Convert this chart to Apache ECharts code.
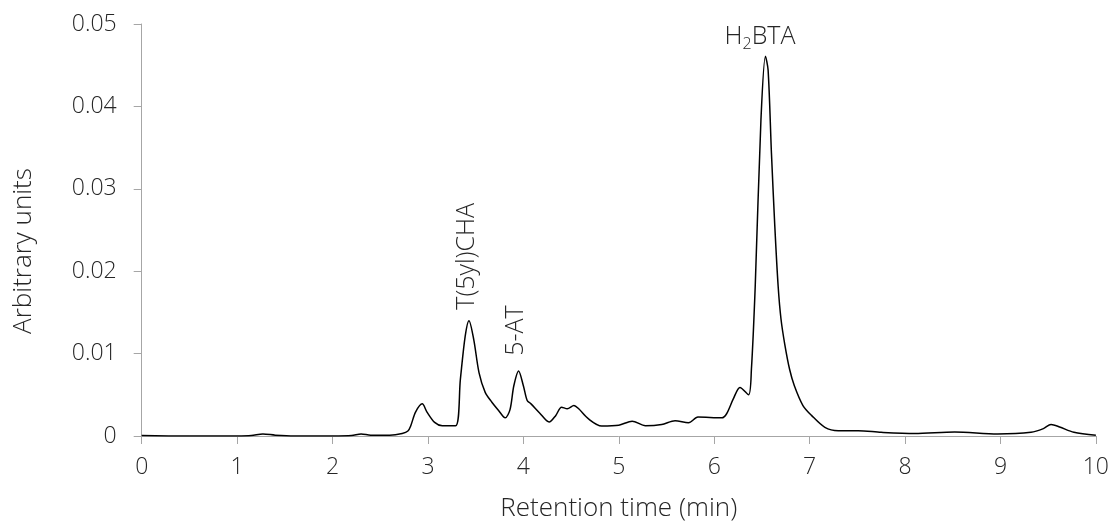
<!DOCTYPE html>
<html>
<head>
<meta charset="utf-8">
<script src="https://cdn.jsdelivr.net/npm/echarts@6/dist/echarts.min.js"></script>
<style>html,body{margin:0;padding:0;background:#fff}#c{width:1112px;height:527px}</style>
</head>
<body>
<div id="c"></div>
<script>
// Retention time (min)
const times = [0, 0.5, 1.0, 1.15, 1.27, 1.4, 1.6, 2.0, 2.2, 2.3, 2.4, 2.6, 2.73, 2.79, 2.82, 2.87, 2.94, 2.99, 3.07, 3.15, 3.29, 3.34, 3.39, 3.43, 3.48, 3.535, 3.6, 3.67, 3.74, 3.81, 3.86, 3.9, 3.95, 4.0, 4.04, 4.08, 4.17, 4.27, 4.34, 4.40, 4.46, 4.53, 4.58, 4.68, 4.82, 5.0, 5.14, 5.28, 5.45, 5.59, 5.73, 5.83, 6.08, 6.13, 6.2, 6.27, 6.36, 6.39, 6.43, 6.49, 6.537, 6.565, 6.60, 6.635, 6.67, 6.70, 6.74, 6.79, 6.84, 6.93, 7.02, 7.16, 7.30, 7.51, 7.75, 8.10, 8.52, 8.97, 9.32, 9.45, 9.53, 9.62, 9.77, 10.0];
// Signal (arbitrary units)
const signal = [0.00005, 0.0, 0.0, 0.00005, 0.00025, 0.0001, 0.0, 0.0, 0.00005, 0.00025, 0.0001, 0.0001, 0.0003, 0.0006, 0.00125, 0.0029, 0.0039, 0.0029, 0.00165, 0.00125, 0.00125, 0.0069, 0.0121, 0.014, 0.0117, 0.0077, 0.0053, 0.0041, 0.0031, 0.0022, 0.0032, 0.0061, 0.0079, 0.0061, 0.0043, 0.0039, 0.0028, 0.0017, 0.0025, 0.0035, 0.0033, 0.0037, 0.0033, 0.0021, 0.0012, 0.0013, 0.0018, 0.00125, 0.0014, 0.00185, 0.0016, 0.0023, 0.0022, 0.0027, 0.0045, 0.0059, 0.005, 0.0081, 0.0182, 0.0384, 0.0461, 0.0444, 0.0343, 0.0255, 0.0182, 0.0142, 0.0111, 0.0081, 0.0061, 0.0037, 0.0025, 0.00105, 0.00065, 0.00065, 0.00045, 0.0003, 0.0005, 0.00025, 0.00045, 0.0009, 0.0014, 0.0011, 0.00045, 0.0001];
// Peak annotations
const peakNames = ['T(5yl)CHA', '5-AT', 'H{sub|2}BTA'];
const peakX = [3.41, 3.92, 6.48];
const peakY = [0.0218, 0.0128, 0.0484];
const peakRotate = [90, 90, 0];
const xTicks = [0, 1, 2, 3, 4, 5, 6, 7, 8, 9, 10];
const yTicks = [0, 0.01, 0.02, 0.03, 0.04, 0.05];

const FONT = '"Open Sans", "Segoe UI", sans-serif';
const TXT = '#262626';
const AX = '#a6a6a6';
const FS_TICK = 23;
const FS_TITLE = 26;
const FS_ANN = 25;

const chart = echarts.init(document.getElementById('c'), null, {renderer: 'canvas'});
const data = times.map((t, i) => [t, signal[i]]);
chart.setOption({
  animation: false,
  grid: {left: 141.7, right: 14, top: 24, bottom: 90},
  xAxis: {
    type: 'value', min: xTicks[0], max: xTicks[xTicks.length - 1], interval: 1,
    name: 'Retention time (min)', nameLocation: 'middle', nameGap: 60,
    nameTextStyle: {fontFamily: FONT, fontWeight: 300, fontSize: FS_TITLE, color: TXT},
    axisLine: {lineStyle: {color: AX, width: 1}},
    axisTick: {show: true, length: 8, lineStyle: {color: AX}},
    axisLabel: {fontFamily: FONT, fontWeight: 300, fontSize: FS_TICK, color: TXT, margin: 20},
    splitLine: {show: false}
  },
  yAxis: {
    type: 'value', min: yTicks[0], max: yTicks[yTicks.length - 1], interval: 0.01,
    name: 'Arbitrary units', nameLocation: 'middle', nameGap: 105, nameRotate: 90,
    nameTextStyle: {fontFamily: FONT, fontWeight: 300, fontSize: FS_TITLE, color: TXT, padding: [0, 42, 0, 0]},
    axisLine: {show: true, lineStyle: {color: AX, width: 1}},
    axisTick: {show: true, length: 8, lineStyle: {color: AX}},
    axisLabel: {fontFamily: FONT, fontWeight: 300, fontSize: FS_TICK, color: TXT, margin: 25,
      formatter: v => (v === 0 ? '0' : v.toFixed(2))},
    splitLine: {show: false}
  },
  series: [{
    type: 'line', data: data, showSymbol: false, symbol: 'none',
    smooth: 0.3,
    lineStyle: {color: '#000', width: 1.5}
  }]
});

const graphics = peakNames.map((name, i) => {
  const p = chart.convertToPixel({gridIndex: 0}, [peakX[i], peakY[i]]);
  return {
    type: 'text', x: p[0], y: p[1], rotation: peakRotate[i] * Math.PI / 180,
    style: {
      text: name, fontFamily: FONT, fontWeight: 300, fontSize: FS_ANN, fill: TXT,
      align: 'center', verticalAlign: 'middle',
      rich: {sub: {fontSize: 16, fontFamily: FONT, fontWeight: 300, fill: TXT, padding: [14, 0, 0, 0]}}
    }
  };
});
chart.setOption({graphic: graphics});
</script>
</body>
</html>
